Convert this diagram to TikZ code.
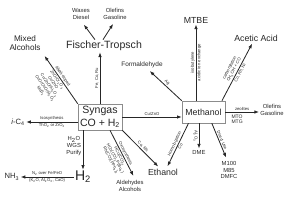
\documentclass[tikz,border=0pt]{standalone}
\usepackage{fontspec}
\setmainfont{Liberation Sans}
\usetikzlibrary{arrows.meta}
\tikzset{
    conn/.style={draw=black!85,line width=0.7pt,-{Latex[length=4pt,width=3pt]}},
    boxnode/.style={draw=black!45,line width=0.5pt,fill=white},
    bigtxt/.style={font=\fontsize{7.5}{8.5}\selectfont,text=black!85,inner sep=1pt,align=center},
    prodtxt/.style={font=\fontsize{5}{5.8}\selectfont,text=black!85,inner sep=1pt,align=center},
    cattxt/.style={font=\fontsize{3.6}{4.2}\selectfont,text=black!85,inner sep=0.8pt,align=center}
}
\begin{document}
\begin{tikzpicture}[x=0.03cm,y=-0.03cm]
    \useasboundingbox (0,0) rectangle (300,200);
    \node[bigtxt,boxnode,font=\fontsize{9}{10.5}\selectfont,minimum width=1.32cm,minimum height=0.78cm] (syngas) at (100,117) {Syngas\\CO + H\textsubscript{2}};
    \node[bigtxt,boxnode,minimum width=1.29cm,minimum height=0.66cm] (methanol) at (203.5,112) {Methanol};
    \node[bigtxt,font=\fontsize{9}{10}\selectfont] (ft) at (104,46) {Fischer-Tropsch};
    \node[prodtxt] (waxes) at (81,14) {Waxes\\Diesel};
    \node[prodtxt] (olefft) at (115,14) {Olefins\\Gasoline};
    \node[bigtxt,font=\fontsize{7}{8}\selectfont] (mixed) at (25,43) {Mixed\\Alcohols};
    \node[bigtxt,font=\fontsize{6.5}{7}\selectfont] (ic4) at (18,122) {\textit{i}-C\textsubscript{4}};
    \node[bigtxt,font=\fontsize{12}{13}\selectfont] (h2) at (83,177) {H\textsubscript{2}};
    \node[bigtxt,font=\fontsize{6.5}{7}\selectfont] (nh3) at (12,177) {NH\textsubscript{3}};
    \node[prodtxt] (ald) at (130,186) {Aldehydes\\Alcohols};
    \node[bigtxt] (ethanol) at (163,172) {Ethanol};
    \node[prodtxt,font=\fontsize{5.5}{6}\selectfont] (formald) at (142,65) {Formaldehyde};
    \node[bigtxt] (mtbe) at (196,20) {MTBE};
    \node[bigtxt] (acetic) at (256,38) {Acetic Acid};
    \node[prodtxt] (olefme) at (272,110) {Olefins\\Gasoline};
    \node[prodtxt] (dme) at (199,152) {DME};
    \node[prodtxt] (m100) at (229,170) {M100\\M85\\DMFC};
    \draw[conn] (syngas.north) -- (syngas.north |- ft.south) node[cattxt,midway,sloped,above] {Fe, Co, Ru};
    \draw[conn,shorten >=4pt] ([xshift=-0.27cm]ft.north) -- (waxes.south);
    \draw[conn,shorten >=3pt] ([xshift=-0.03cm]ft.north) -- (olefft.south);
    \draw[conn,shorten >=4pt] (syngas.north west) -- (mixed.south east)
        node[cattxt,midway,sloped,above] {Alkali-doped}
        node[cattxt,midway,sloped,below] {ZnO/Cr\textsubscript{2}O\textsubscript{3}\\Cu/ZnO\\Cu/ZnO/Al\textsubscript{2}O\textsubscript{3}\\CuO/CoO/Al\textsubscript{2}O\textsubscript{3}\\MoS\textsubscript{2}};
    \draw[conn] (syngas.west |- ic4) -- (ic4.east)
        node[cattxt,midway,above] {Isosynthesis}
        node[cattxt,midway,below] {ThO\textsubscript{2} or ZrO\textsubscript{2}};
    \draw[conn] (syngas.south -| h2) -- (h2.north) node[prodtxt,pos=0.4,left] {H\textsubscript{2}O\\WGS\\Purify};
    \draw[conn] (h2) -- (nh3)
        node[cattxt,midway,above] {N\textsubscript{2} over Fe/FeO}
        node[cattxt,midway,below] {(K\textsubscript{2}O, Al\textsubscript{2}O\textsubscript{3}, CaO)};
    \draw[conn,shorten >=3pt] ([xshift=0.3cm]syngas.south) -- ([xshift=0.15cm]ald.north)
        node[cattxt,midway,sloped,above] {Oxosynthesis}
        node[cattxt,midway,sloped,below] {HCo(CO)\textsubscript{4}\\HCo(CO)\textsubscript{3}P(Bu\textsubscript{3})\\Rh(CO)(PPh\textsubscript{3})\textsubscript{3}};
    \draw[conn,shorten >=1pt] (syngas.south east) -- ([xshift=-0.12cm]ethanol.north) node[cattxt,midway,sloped,above] {Co, Rh};
    \draw[conn] (syngas.east) -- (syngas.east -| methanol.west) node[cattxt,midway,above] {Cu/ZnO};
    \draw[conn,shorten >=2pt] (methanol.north west) -- ([xshift=0.18cm]formald.south) node[cattxt,midway,sloped,above] {Ag};
    \draw[conn] (methanol.north -| mtbe) -- (mtbe.south)
        node[cattxt,midway,sloped,above] {isobutylene}
        node[cattxt,midway,sloped,below] {acidic ion exchange};
    \draw[conn,shorten >=1pt] ([xshift=-0.1cm]methanol.north east) -- ([xshift=-0.1cm]acetic.south)
        node[cattxt,midway,sloped,above] {carbonylation\\CH\textsubscript{3}OH + CO}
        node[cattxt,midway,sloped,below] {Co, Rh, Ni};
    \draw[conn] (methanol.east) -- (methanol.east -| olefme.west)
        node[cattxt,midway,above] {zeolites}
        node[cattxt,font=\fontsize{4.3}{5}\selectfont,pos=0.35,below=1pt] {MTO\\MTG};
    \draw[conn] (methanol.south -| dme) -- (dme.north) node[cattxt,midway,anchor=north,rotate=-90] {Al\textsubscript{2}O\textsubscript{3}};
    \draw[conn,shorten >=2pt] ([xshift=0.25cm]methanol.south) -- ([xshift=-0.06cm]m100.north) node[cattxt,midway,sloped,above] {Direct Use};
    \draw[conn,shorten >=1pt] ([xshift=-0.45cm]methanol.south) -- ([xshift=0.12cm]ethanol.north)
        node[cattxt,midway,sloped,above] {Homologation}
        node[cattxt,midway,sloped,below] {Co};
\end{tikzpicture}
\end{document}
